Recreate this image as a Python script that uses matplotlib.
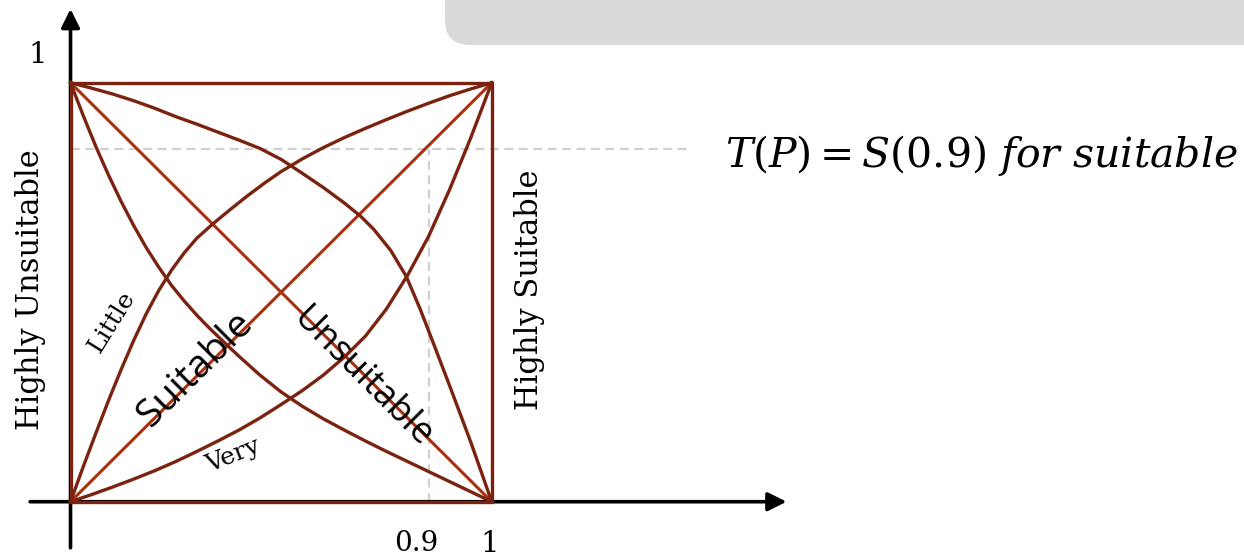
import matplotlib
matplotlib.use("Agg")
import matplotlib.pyplot as plt
from matplotlib.patches import FancyBboxPatch

plt.rcParams["mathtext.fontset"] = "dejavuserif"

# membership curves (x = P, y = degree)
little_x = [0, 0.03, 0.06, 0.09, 0.12, 0.15, 0.18, 0.21, 0.24, 0.27, 0.30, 0.339, 0.38, 0.42,
            0.46, 0.50, 0.55, 0.60, 0.65, 0.70, 0.75, 0.80, 0.85, 0.90, 0.95, 1.0]
little_y = [0, 0.083, 0.163, 0.241, 0.315, 0.385, 0.449, 0.505, 0.553, 0.594, 0.629, 0.664, 0.698, 0.730,
            0.760, 0.788, 0.818, 0.845, 0.869, 0.891, 0.912, 0.932, 0.951, 0.969, 0.985, 1.0]

very_x = [0, 0.05, 0.10, 0.15, 0.20, 0.25, 0.30, 0.35, 0.40, 0.45, 0.50, 0.55, 0.60, 0.65,
          0.70, 0.75, 0.80, 0.85, 0.90, 0.95, 1.0]
very_y = [0, 0.017, 0.035, 0.054, 0.074, 0.096, 0.120, 0.145, 0.171, 0.200, 0.232, 0.265, 0.302, 0.345,
          0.395, 0.460, 0.540, 0.633, 0.745, 0.868, 1.0]

# the two curves falling from (0, 1)
steep_x = [0, 0.03, 0.06, 0.09, 0.12, 0.15, 0.18, 0.21, 0.24, 0.27, 0.30, 0.33, 0.36, 0.40,
           0.45, 0.50, 0.55, 0.60, 0.65, 0.70, 0.75, 0.80, 0.85, 0.90, 0.95, 1.0]
steep_y = [1.0, 0.922, 0.848, 0.780, 0.717, 0.659, 0.606, 0.559, 0.516, 0.479, 0.445, 0.414, 0.385, 0.347,
           0.302, 0.262, 0.228, 0.198, 0.171, 0.145, 0.120, 0.096, 0.072, 0.048, 0.024, 0]

gentle_x = [0, 0.05, 0.10, 0.15, 0.20, 0.25, 0.30, 0.35, 0.40, 0.45, 0.50, 0.55, 0.60, 0.65,
            0.688, 0.72, 0.76, 0.797, 0.83, 0.862, 0.90, 0.95, 1.0]
gentle_y = [1.0, 0.987, 0.973, 0.957, 0.939, 0.919, 0.901, 0.882, 0.863, 0.843, 0.817, 0.784, 0.750, 0.713,
            0.682, 0.650, 0.600, 0.538, 0.460, 0.377, 0.277, 0.143, 0]

suitable_x = [0, 1]
suitable_y = [0, 1]
unsuitable_x = [0, 1]
unsuitable_y = [1, 0]

box_x = [0, 0, 1, 1, 0]
box_y = [0, 1, 1, 0, 0]

threshold_x = 0.852   # where the dashed guide meets the axis (labelled 0.9)
threshold_y = 0.841

CURVE = "#7a2310"
DIAG = "#a9310f"
GUIDE = "#d0d0d0"

fig = plt.figure(figsize=(12.44, 5.6), dpi=100)
ax = fig.add_axes([0, 0, 1, 1])
ax.set_xlim(-0.1674, 2.786)
ax.set_ylim(-0.1391, 1.1974)
ax.axis("off")

# grey banner at the top
ax.add_patch(FancyBboxPatch((0.889, 1.09), 2.2, 0.3,
                            boxstyle="round,pad=0,rounding_size=0.06",
                            facecolor="#d9d9d9", edgecolor="none", clip_on=False))

# axes with arrow heads
arrow = dict(arrowstyle="-|>", lw=2.6, color="black", mutation_scale=28, shrinkA=0, shrinkB=0)
ax.annotate("", xy=(0, 1.176), xytext=(0, -0.11), arrowprops=arrow)
ax.annotate("", xy=(1.70, 0), xytext=(-0.096, 0), arrowprops=arrow)

# dashed guides
ax.plot([0, 1.471], [threshold_y, threshold_y], color=GUIDE, lw=1.6, ls=(0, (4, 2.5)), zorder=1)
ax.plot([threshold_x, threshold_x], [0, threshold_y], color=GUIDE, lw=1.6, ls=(0, (4, 2.5)), zorder=1)

ax.plot(box_x, box_y, color=CURVE, lw=2.4, solid_joinstyle="miter", zorder=3)
ax.plot(suitable_x, suitable_y, color=DIAG, lw=2.2, zorder=3)
ax.plot(unsuitable_x, unsuitable_y, color=DIAG, lw=2.2, zorder=3)
for xs, ys in [(little_x, little_y), (very_x, very_y), (steep_x, steep_y), (gentle_x, gentle_y)]:
    ax.plot(xs, ys, color=CURVE, lw=2.4, solid_joinstyle="round", zorder=3)

serif = "DejaVu Serif"
ax.text(-0.077, 1.066, "1", fontsize=21, family=serif, ha="center", va="center")
ax.text(0.82, -0.1, "0.9", fontsize=20, family=serif, ha="center", va="center")
ax.text(0.996, -0.1, "1", fontsize=21, family=serif, ha="center", va="center")

ax.text(-0.096, 0.505, "Highly Unsuitable", fontsize=22, family=serif, rotation=90, ha="center", va="center")
ax.text(1.09, 0.505, "Highly Suitable", fontsize=22, family=serif, rotation=90, ha="center", va="center")
ax.text(0.098, 0.43, "Little", fontsize=18, family=serif, rotation=58, ha="center", va="center")
ax.text(0.386, 0.109, "Very", fontsize=18, family=serif, rotation=22, ha="center", va="center")
ax.text(0.296, 0.315, "Suitable", fontsize=28, family="Open Sans", rotation=45, ha="center", va="center")
ax.text(0.692, 0.295, "Unsuitable", fontsize=26, family="Open Sans", rotation=-45, ha="center", va="center")

ax.text(1.553, 0.827, r"$T(P) = S(0.9)\ for\ suitable$", fontsize=29.5, ha="left", va="center")

fig.savefig("out.png", dpi=100)
